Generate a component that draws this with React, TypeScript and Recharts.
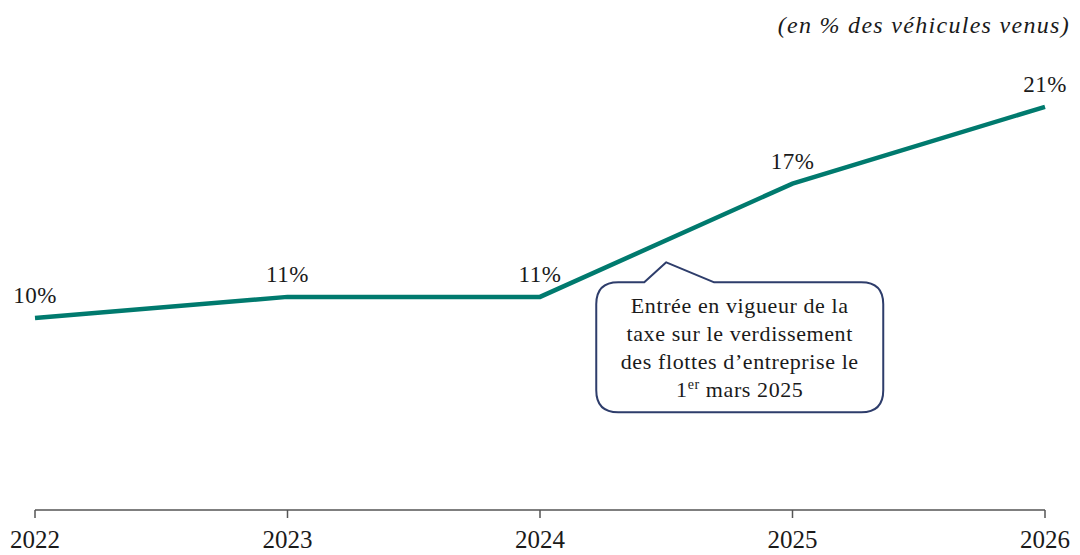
import { LineChart, Line, XAxis, YAxis, LabelList, ReferenceDot } from 'recharts';

// Part of new vehicles (%)
const years = [2022, 2023, 2024, 2025, 2026];
const shares = [10.0, 11.1, 11.1, 17.0, 21.0];
const shareLabels = ['10%', '11%', '11%', '17%', '21%'];

const unitNote = '(en % des véhicules venus)';
const calloutLines = ['Entrée en vigueur de la', 'taxe sur le verdissement', 'des flottes d\u2019entreprise le'];
// anchor of the callout pointer, in data units
const calloutYear = 2024.5;
const calloutValue = 12.9;

const data = years.map((year, i) => ({ year, share: shares[i], label: shareLabels[i] }));

const FONT = '"Liberation Serif", "DejaVu Serif", serif';
const TEAL = '#007A6E';
const NAVY = '#2E3D6B';

const ShareLabel = (props: any) => {
  const { x, y, index } = props;
  return (
    <text x={x} y={y - 15} textAnchor="middle" fontFamily={FONT} fontSize={23} letterSpacing={0.5} fill="#1a1a1a">
      {shareLabels[index]}
    </text>
  );
};

const Callout = (props: any) => {
  const { cx, cy } = props;
  const l = cx - 70;
  const r = cx + 217;
  const t = cy + 20;
  const b = cy + 150;
  const rad = 22;
  const d = [
    `M ${l + rad} ${t}`,
    `L ${cx - 22} ${t}`,
    `L ${cx} ${cy}`,
    `L ${cx + 48} ${t}`,
    `L ${r - rad} ${t}`,
    `Q ${r} ${t} ${r} ${t + rad}`,
    `L ${r} ${b - rad}`,
    `Q ${r} ${b} ${r - rad} ${b}`,
    `L ${l + rad} ${b}`,
    `Q ${l} ${b} ${l} ${b - rad}`,
    `L ${l} ${t + rad}`,
    `Q ${l} ${t} ${l + rad} ${t}`,
    'Z',
  ].join(' ');
  const mid = (l + r) / 2;
  return (
    <g>
      <path d={d} fill="#fff" stroke={NAVY} strokeWidth={2} strokeLinejoin="round" />
      <text textAnchor="middle" fontFamily={FONT} fontSize={22} letterSpacing={0.6} fill="#1a1a1a">
        {calloutLines.map((line, i) => (
          <tspan key={i} x={mid} y={t + 31 + i * 28}>{line}</tspan>
        ))}
        <tspan x={mid} y={t + 31 + 3 * 28}>
          1<tspan fontSize={14} dy={-8}>er</tspan>
          <tspan dy={8}> mars 2025</tspan>
        </tspan>
      </text>
    </g>
  );
};

export default function App() {
  return (
    <div style={{ position: 'absolute', left: 0, top: 0, width: 1080, height: 555, background: '#fff' }}>
      <LineChart width={1080} height={555} data={data} margin={{ top: 30, right: 35, left: 35, bottom: 0 }}>
        <XAxis
          dataKey="year"
          type="number"
          domain={[2022, 2026]}
          ticks={years}
          height={45}
          axisLine={{ stroke: '#555', strokeWidth: 1.5 }}
          tickLine={{ stroke: '#555', strokeWidth: 1.5 }}
          tickSize={8}
          tick={{ fontFamily: FONT, fontSize: 25, fill: '#1a1a1a', dy: 10 }}
        />
        <YAxis hide domain={[0, 25]} />
        <Line
          type="linear"
          dataKey="share"
          stroke={TEAL}
          strokeWidth={4.5}
          dot={false}
          isAnimationActive={false}
        >
          <LabelList dataKey="label" content={ShareLabel} />
        </Line>
        <ReferenceDot x={calloutYear} y={calloutValue} shape={Callout} ifOverflow="visible" />
        <text x={1070} y={33} textAnchor="end" fontFamily={FONT} fontStyle="italic" fontSize={24} letterSpacing={1.3} fill="#1a1a1a">
          {unitNote}
        </text>
      </LineChart>
    </div>
  );
}
